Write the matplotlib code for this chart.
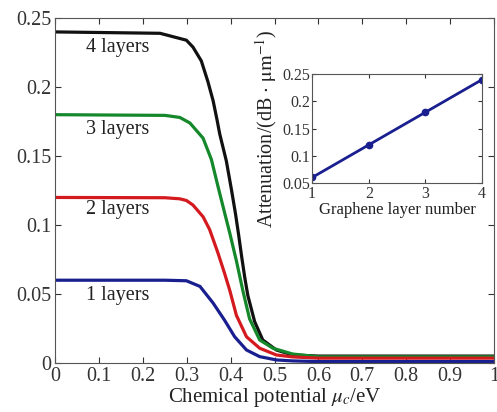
import numpy as np
import matplotlib
matplotlib.use("Agg")
import matplotlib.pyplot as plt

plt.rcParams["font.family"] = ["Liberation Serif", "DejaVu Serif"]
plt.rcParams["mathtext.fontset"] = "stix"

mu_4 = [0.0, 0.239, 0.269, 0.299, 0.314, 0.333, 0.348, 0.360, 0.369, 0.375, 0.390, 0.4015,
        0.411, 0.418, 0.425, 0.432, 0.439, 0.4545, 0.473, 0.504, 0.541, 0.60, 1.0]
att_4 = [0.240, 0.239, 0.2365, 0.234, 0.229, 0.219, 0.204, 0.190, 0.176, 0.166, 0.1465, 0.126,
         0.108, 0.093, 0.077, 0.062, 0.049, 0.030, 0.0167, 0.0094, 0.0058, 0.005, 0.005]

mu_3 = [0.0, 0.25, 0.284, 0.307, 0.337, 0.356, 0.371, 0.386, 0.398, 0.413, 0.428,
        0.443, 0.466, 0.496, 0.541, 0.60, 1.0]
att_3 = [0.180, 0.1795, 0.178, 0.174, 0.163, 0.1475, 0.128, 0.109, 0.094, 0.074, 0.052,
         0.032, 0.0167, 0.0107, 0.0065, 0.0045, 0.0045]

mu_2 = [0.0, 0.25, 0.284, 0.299, 0.314, 0.337, 0.352, 0.371, 0.386, 0.398, 0.413,
        0.436, 0.466, 0.504, 0.541, 0.60, 1.0]
att_2 = [0.120, 0.1198, 0.119, 0.1178, 0.1145, 0.106, 0.0967, 0.0797, 0.065, 0.0525, 0.0345,
         0.019, 0.0107, 0.0058, 0.0044, 0.0035, 0.0035]

mu_1 = [0.0, 0.25, 0.299, 0.33, 0.36, 0.386, 0.409, 0.436, 0.466, 0.504, 0.541, 0.60, 1.0]
att_1 = [0.060, 0.060, 0.0596, 0.0555, 0.0434, 0.031, 0.019, 0.0094, 0.0046, 0.0022, 0.0015, 0.001, 0.001]

labels = ["4 layers", "3 layers", "2 layers", "1 layers"]
label_y = [0.229, 0.169, 0.111, 0.049]
colors = ["#111111", "#14882a", "#d41a1f", "#1a1f8f"]

# inset: attenuation vs layer count
layer_num = [1, 2, 3, 4]
layer_att = [0.06, 0.12, 0.18, 0.24]

fig = plt.figure(figsize=(4.97, 4.12), dpi=100)
ax = fig.add_axes([0.111, 0.119, 0.883, 0.837])

curves = [(mu_4, att_4), (mu_3, att_3), (mu_2, att_2), (mu_1, att_1)]
for (x, y), c in zip(curves, colors):
    ax.plot(x, y, color=c, lw=2.3, solid_joinstyle="round", solid_capstyle="round")
for lab, yy in zip(labels, label_y):
    ax.text(0.07, yy, lab, fontsize=14.5, va="center", ha="left", color="#222222")

ax.set_xlim(0, 1)
ax.set_ylim(0, 0.25)
ax.set_xticks(np.arange(0, 1.01, 0.1))
ax.set_xticklabels(["0", "0.1", "0.2", "0.3", "0.4", "0.5", "0.6", "0.7", "0.8", "0.9", "1"])
ax.set_yticks([0, 0.05, 0.1, 0.15, 0.2, 0.25])
ax.set_yticklabels(["0", "0.05", "0.1", "0.15", "0.2", "0.25"])
ax.tick_params(direction="in", top=True, right=True, length=4, labelsize=14.5,
               colors="#333333", pad=3)
for s in ax.spines.values():
    s.set_color("#555555")
ax.set_xlabel(r"Chemical potential $\mu_c$/eV", fontsize=15, labelpad=0, color="#222222")

ins = fig.add_axes([0.628, 0.556, 0.342, 0.264])
ins.plot(layer_num, layer_att, color="#1a1f8f", lw=2, marker="o", ms=4.5)
ins.set_xlim(1, 4)
ins.set_ylim(0.05, 0.25)
ins.set_xticks([1, 2, 3, 4])
ins.set_yticks([0.05, 0.1, 0.15, 0.2, 0.25])
ins.set_yticklabels(["0.05", "0.1", "0.15", "0.2", "0.25"])
ins.tick_params(direction="in", top=True, right=True, length=3, labelsize=11.5,
                colors="#333333", pad=1)
ins.tick_params(axis="x", pad=2)
for s in ins.spines.values():
    s.set_color("#555555")
ins.set_xlabel("Graphene layer number", fontsize=12, labelpad=0, color="#222222")
ins.set_ylabel(r"Attenuation/(dB $\cdot$ $\mathrm{\mu m}^{-1}$)", fontsize=14.5,
               labelpad=3, color="#222222")

fig.savefig("out.png", dpi=100)
